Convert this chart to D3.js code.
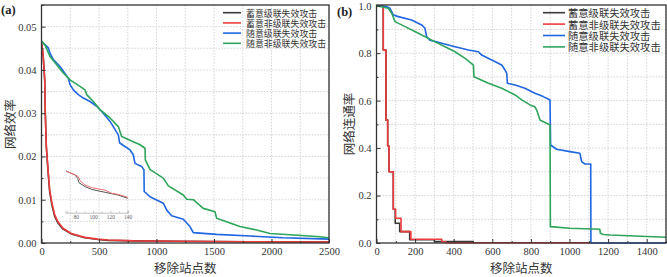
<!DOCTYPE html>
<html><head><meta charset="utf-8">
<script src="https://cdn.jsdelivr.net/npm/d3@7"></script>
<style>
body{margin:0;background:#fff;}
svg{display:block;}
</style></head>
<body>
<svg id="c" width="667" height="277"></svg>
<script>
// ---------- DATA ----------
const legendLabels = ["蓄意级联失效攻击","蓄意非级联失效攻击","随意级联失效攻击","随意非级联失效攻击"];
const seriesColors = ["#3a3a3a","#ee3b3b","#1f66e0","#2ea55a"];

// Panel (a): 网络效率
const aRedX   = [0,13,28,33,42,57,71,91,115,143,187,259,376,491,578,800,1200,1800,2500];
const aRedY   = [0.0462,0.0439,0.0377,0.0300,0.0223,0.0169,0.0123,0.0092,0.0065,0.0049,0.0034,0.0022,0.0013,0.0009,0.0007,0.0005,0.0004,0.0003,0.0002];
const aBlackX = [0,13,28,33,42,57,71,91,115,143,187,259,376,491,578,800,1200,1800,2500];
const aBlackY = [0.0462,0.0439,0.0377,0.0300,0.0223,0.0165,0.0118,0.0087,0.0061,0.0046,0.0032,0.0021,0.0012,0.0008,0.0006,0.0005,0.0004,0.0003,0.0002];
const aBlueX  = [0,59,74,103,161,190,233,248,277,320,363,422,480,537,596,624,668,680,726,770,798,813,871,891,893,943,1059,1089,1132,1233,1291,1320,1523,1813,2103,2500];
const aBlueY  = [0.0466,0.0451,0.0439,0.0424,0.0408,0.0397,0.0381,0.0366,0.0354,0.0343,0.0335,0.0327,0.0316,0.0300,0.0281,0.0269,0.0250,0.0231,0.0223,0.0215,0.0204,0.0184,0.0177,0.0169,0.0119,0.0107,0.0092,0.0076,0.0063,0.0055,0.0038,0.0024,0.0020,0.0016,0.0012,0.0009];
const aGreenX = [0,30,74,132,190,248,335,378,393,451,509,596,668,697,798,857,900,903,943,1059,1103,1233,1263,1320,1407,1509,1523,1639,1726,1871,1987,2161,2393,2500];
const aGreenY = [0.0466,0.0458,0.0431,0.0412,0.0393,0.0377,0.0362,0.0354,0.0343,0.0327,0.0308,0.0289,0.0269,0.0246,0.0234,0.0227,0.0219,0.0192,0.0170,0.0150,0.0132,0.0111,0.0101,0.0100,0.0080,0.0072,0.0057,0.0046,0.0038,0.0030,0.0022,0.0019,0.0015,0.0012];
// inset of panel (a)
const insetX      = [68.6,79,82.8,84.8,90.6,98.3,113.7,121.5,129.1,140];
const insetRedY   = [0.0125,0.0114,0.0109,0.0098,0.0085,0.0078,0.0071,0.0062,0.0059,0.0051];
const insetBlackX = [68.6,79,82.1,83.6,90.6,98.3,113.7,129.1,140];
const insetBlackY = [0.0125,0.0114,0.0104,0.0092,0.0081,0.0073,0.0065,0.0057,0.0048];
const insetTicks  = [80,100,120,140];

// Panel (b): 网络连通率
const bRedX   = [0,35,49,58,65,87,99,127,178,338,360,1110];
const bRedY   = [1.0,0.813,0.518,0.409,0.300,0.142,0.104,0.048,0.016,0.005,0.001,0.001];
const bBlackX = [0,35,49,58,65,87,97,120,172,300,500];
const bBlackY = [1.0,0.813,0.518,0.409,0.300,0.142,0.083,0.048,0.014,0.006,0.0];
const bBlueX  = [0,53,70,87,113,182,234,251,260,277,338,407,476,528,545,597,649,666,675,678,718,769,821,864,899,902,933,1002,1054,1063,1080,1110,1111,1500];
const bBlueY  = [1.0,0.996,0.989,0.961,0.954,0.940,0.919,0.905,0.869,0.855,0.842,0.827,0.813,0.806,0.792,0.771,0.750,0.729,0.715,0.673,0.666,0.652,0.631,0.617,0.603,0.413,0.395,0.385,0.378,0.343,0.333,0.333,0.0,0.0];
const bGreenX = [0,61,79,96,148,217,286,355,407,459,502,505,580,649,718,753,795,821,830,847,899,901,1002,1157,1160,1175,1209,1500];
const bGreenY = [1.0,0.989,0.968,0.933,0.912,0.884,0.855,0.827,0.806,0.778,0.750,0.701,0.673,0.652,0.624,0.603,0.582,0.574,0.560,0.518,0.497,0.069,0.062,0.058,0.041,0.036,0.034,0.024];

const aXTicks = [0,500,1000,1500,2000,2500];
const aYTicks = [0,0.01,0.02,0.03,0.04,0.05];
const bXTicks = [0,200,400,600,800,1000,1200,1400];
const bYTicks = [0,0.2,0.4,0.6,0.8,1.0];

// ---------- DRAW ----------
const svg = d3.select("#c");
const numFont = "'Liberation Serif','DejaVu Serif',serif";
const cjkFont = "'Noto Sans CJK SC','Noto Sans CJK JP',sans-serif";
const zip = (xs, ys) => xs.map((x,i)=>[x, ys[i]]);

function panel(opt){
  const g = svg.append("g");
  const x = d3.scaleLinear().domain(opt.xDom).range([opt.l, opt.r]);
  const y = d3.scaleLinear().domain(opt.yDom).range([opt.b, opt.t]);
  const gx = d3.range(opt.xDom[0], opt.xDom[1]+1e-9, opt.xMinor);
  const gy = d3.range(opt.yDom[0], opt.yDom[1]+1e-9, opt.yMinor);
  g.append("g").selectAll("line").data(gx.slice(1)).join("line")
    .attr("x1", d=>x(d)).attr("x2", d=>x(d)).attr("y1", opt.t).attr("y2", opt.b)
    .attr("stroke","#cfcfcf").attr("stroke-width",0.9).attr("stroke-dasharray","1.5,1.5");
  g.append("g").selectAll("line").data(gy.slice(1).filter(v=>y(v)>opt.t+1)).join("line")
    .attr("x1", opt.l).attr("x2", opt.r).attr("y1", d=>y(d)).attr("y2", d=>y(d))
    .attr("stroke","#cfcfcf").attr("stroke-width",0.9).attr("stroke-dasharray","1.5,1.5");

  const clipId = "clip"+opt.name;
  svg.append("clipPath").attr("id",clipId).append("rect")
    .attr("x",opt.l).attr("y",opt.t).attr("width",opt.r-opt.l).attr("height",opt.b-opt.t+1);
  opt.series.forEach((s,i)=>{
    const line = d3.line().x(d=>x(d[0])).y(d=>y(d[1])).curve(s.curve || d3.curveLinear);
    g.append("path").attr("d", line(zip(s.x,s.y)))
      .attr("fill","none").attr("stroke",seriesColors[i]).attr("stroke-width",1.6)
      .attr("stroke-linejoin","round").attr("clip-path","url(#"+clipId+")");
  });

  const ax = g.append("g").attr("transform",`translate(0,${opt.b})`)
    .call(d3.axisBottom(x).tickValues(opt.xTicks).tickSize(-4).tickPadding(5).tickFormat(d3.format("d")));
  const axm = g.append("g").attr("transform",`translate(0,${opt.b})`)
    .call(d3.axisBottom(x).tickValues(gx.filter(v=>!opt.xTicks.includes(v))).tickSize(-2).tickFormat(""));
  const ay = g.append("g").attr("transform",`translate(${opt.l},0)`)
    .call(d3.axisLeft(y).tickValues(opt.yTicks).tickSize(-4).tickPadding(5).tickFormat(d3.format(opt.yFmt)));
  const aym = g.append("g").attr("transform",`translate(${opt.l},0)`)
    .call(d3.axisLeft(y).tickValues(gy.filter(v=>!opt.yTicks.some(t=>Math.abs(t-v)<1e-9))).tickSize(-2).tickFormat(""));
  [ax,axm,ay,aym].forEach(a=>{
    a.select(".domain").remove();
    a.selectAll("line").attr("stroke","#333").attr("stroke-width",1);
    a.selectAll("text").attr("font-family",numFont).attr("font-size",10.5).attr("fill","#333");
  });
  g.append("rect").attr("x",opt.l).attr("y",opt.t).attr("width",opt.r-opt.l).attr("height",opt.b-opt.t)
    .attr("fill","none").attr("stroke","#333").attr("stroke-width",1.3);

  g.append("text").attr("x",(opt.l+opt.r)/2).attr("y",267).attr("text-anchor","middle")
    .attr("dominant-baseline","central")
    .attr("font-family",cjkFont).attr("font-size",12.5).attr("fill","#333").text("移除站点数");
  g.append("text").attr("transform",`translate(${opt.ytx},${(opt.t+opt.b)/2}) rotate(-90)`)
    .attr("text-anchor","middle").attr("dominant-baseline","central")
    .attr("font-family",cjkFont).attr("font-size",12.5).attr("fill","#333").text(opt.ytitle);
  g.append("text").attr("x",opt.lx).attr("y",opt.ly).attr("font-family",numFont)
    .attr("font-weight","bold").attr("font-size",12.5).attr("fill","#222").text(opt.label);

  const lg = g.append("g");
  legendLabels.forEach((t,i)=>{
    const yy = opt.leg.y0 + i*opt.leg.dy;
    lg.append("line").attr("x1",opt.leg.x1).attr("x2",opt.leg.x2).attr("y1",yy).attr("y2",yy)
      .attr("stroke",seriesColors[i]).attr("stroke-width",1.6);
    const n = t.length;
    lg.append("text").attr("x",opt.leg.tx).attr("y",yy).attr("dominant-baseline","central")
      .attr("font-family",cjkFont).attr("font-size",opt.leg.fs).attr("fill","#333")
      .attr("textLength", opt.leg.cw*n).attr("lengthAdjust","spacingAndGlyphs").text(t);
  });
  return {g,x,y};
}

panel({
  name:"a", l:41.5, r:329, t:5, b:243, xDom:[0,2500], yDom:[0,0.055],
  xMinor:250, yMinor:0.005, xTicks:aXTicks, yTicks:aYTicks, yFmt:".2f",
  ytx:9, ytitle:"网络效率", label:"(a)", lx:1, ly:14,
  leg:{x1:223,x2:241,tx:246,y0:12.7,dy:10.2,fs:9.2,cw:8.9},
  series:[{x:aBlackX,y:aBlackY},{x:aRedX,y:aRedY},{x:aBlueX,y:aBlueY},{x:aGreenX,y:aGreenY}]
});

panel({
  name:"b", l:376.5, r:666, t:5, b:243, xDom:[0,1500], yDom:[0,1.003],
  xMinor:100, yMinor:0.1, xTicks:bXTicks, yTicks:bYTicks, yFmt:".1f",
  ytx:348, ytitle:"网络连通率", label:"(b)", lx:337, ly:16,
  leg:{x1:543,x2:565,tx:568,y0:12.7,dy:11.4,fs:10.6,cw:10.3},
  series:[{x:bBlackX,y:bBlackY,curve:d3.curveStepAfter},{x:bRedX,y:bRedY,curve:d3.curveStepAfter},
          {x:bBlueX,y:bBlueY},{x:bGreenX,y:bGreenY}]
});

// inset in panel (a)
const ix = d3.scaleLinear().domain([68,140]).range([65.5,127.7]);
const iy = d3.scaleLinear().domain([0.0048,0.0125]).range([198.3,171]);
const ig = svg.append("g");
const il = d3.line().x(d=>ix(d[0])).y(d=>iy(d[1]));
ig.append("path").attr("d",il(zip(insetBlackX,insetBlackY))).attr("fill","none").attr("stroke","#555").attr("stroke-width",1);
ig.append("path").attr("d",il(zip(insetX,insetRedY))).attr("fill","none").attr("stroke","#f07070").attr("stroke-width",1);
const iax = ig.append("g").attr("transform","translate(0,212.7)")
  .call(d3.axisBottom(ix).tickValues(insetTicks).tickSize(-2).tickPadding(2).tickFormat(d3.format("d")));
iax.select(".domain").attr("stroke","#999").attr("stroke-width",0.6);
iax.selectAll("line").attr("stroke","#999").attr("stroke-width",0.6);
iax.selectAll("text").attr("font-family",numFont).attr("font-size",5.5).attr("fill","#666");
ig.append("g").attr("transform","translate(0,212.7)")
  .call(d3.axisBottom(ix).tickValues([70,90,110,130]).tickSize(-1.2).tickFormat(""))
  .call(a=>{a.select(".domain").remove(); a.selectAll("line").attr("stroke","#999").attr("stroke-width",0.6);});
</script>
</body></html>
